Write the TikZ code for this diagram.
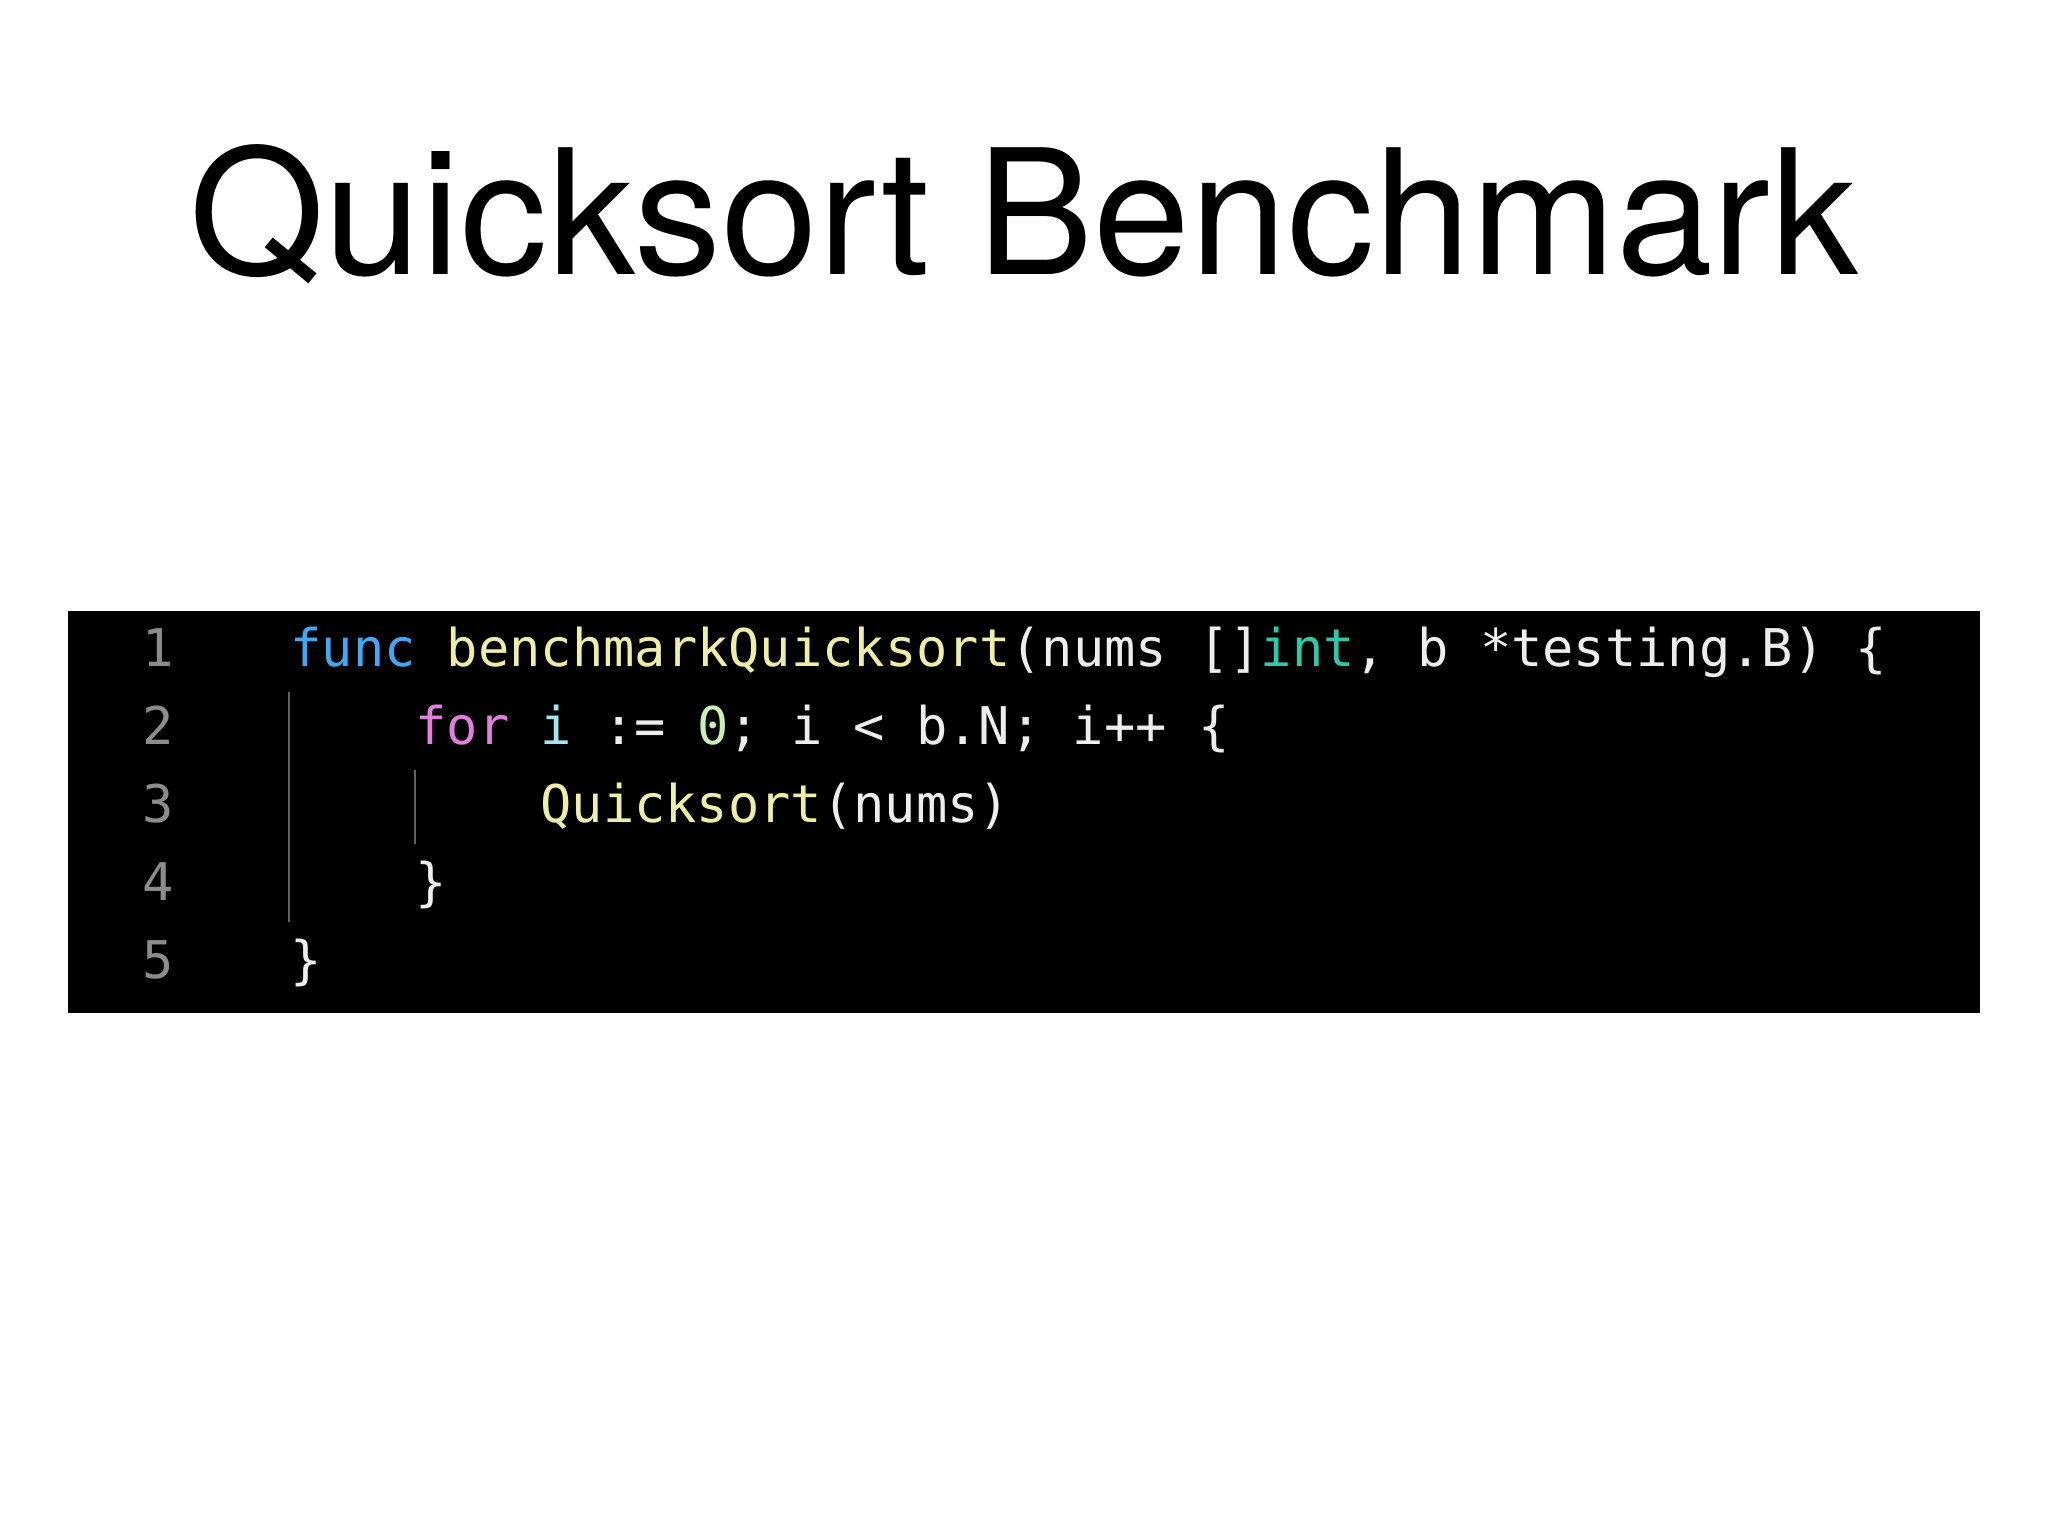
\documentclass[tikz,border=0pt]{standalone}
\usepackage{fontspec}
\setmainfont{TeX Gyre Heros}
\newfontfamily\codefont{DejaVu Sans Mono}
\definecolor{kwblue}{HTML}{3FA9F5}
\definecolor{fnyel}{HTML}{EEEEA8}
\definecolor{tyteal}{HTML}{2EC9A8}
\definecolor{kwmag}{HTML}{E27FDC}
\definecolor{varcy}{HTML}{A8E2F2}
\definecolor{numgr}{HTML}{CDEFB5}
\definecolor{lnum}{HTML}{8C8C8C}
\definecolor{txt}{HTML}{EDEDED}
\begin{document}
\begin{tikzpicture}[x=0.5pt,y=-0.5pt,
  code/.style={anchor=base west,inner sep=0pt,font=\codefont\fontsize{26}{30}\selectfont,text=txt},
  ln/.style={anchor=base,inner sep=0pt,font=\codefont\fontsize{26}{30}\selectfont,text=lnum},
  guide/.style={draw=lnum!70!black,line width=0.8pt}]
\fill[white] (0,0) rectangle (2048,1536);
\useasboundingbox (0,0) rectangle (2048,1536);
\node[anchor=base,inner sep=0pt,font=\fontsize{87}{100}\selectfont] (title) at (1024,274) {Quicksort Benchmark};
\fill[black] (68,611) rectangle (1980,1013);
\foreach \n/\y in {1/666,2/744,3/822,4/900,5/978}
  \node[ln] (l\n) at (158,\y) {\n};
\node[code] (c1) at (290,666) {\textcolor{kwblue}{func} \textcolor{fnyel}{benchmarkQuicksort}(nums []\textcolor{tyteal}{int}, b *testing.B) \{};
\node[code] (c2) at (415,744) {\textcolor{kwmag}{for} \textcolor{varcy}{i} := \textcolor{numgr}{0}; i < b.N; i++ \{};
\node[code] (c3) at (540,822) {\textcolor{fnyel}{Quicksort}(nums)};
\node[code] (c4) at (415,900) {\}};
\node[code] (c5) at (290,978) {\}};
\coordinate (g1a) at (289,692); \coordinate (g1b) at (289,922);
\coordinate (g2a) at (415,770); \coordinate (g2b) at (415,844);
\draw[guide] (g1a) -- (g1b);
\draw[guide] (g2a) -- (g2b);
\end{tikzpicture}
\end{document}
